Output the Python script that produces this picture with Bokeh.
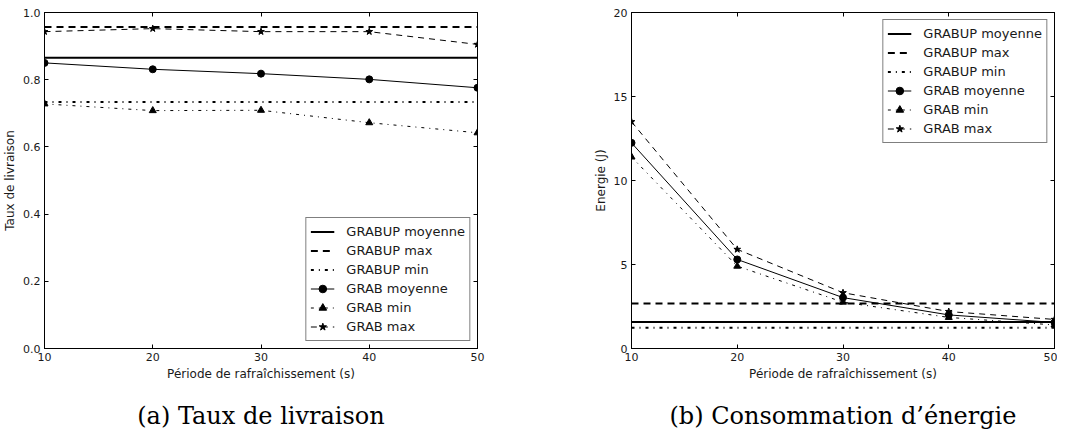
from bokeh.plotting import figure
from bokeh.models import Legend, LegendItem, LinearAxis, Title, FixedTicker, Range1d
from bokeh.layouts import row
from bokeh.embed import file_html
from bokeh.resources import INLINE

# ---------------- data ----------------
periods = [10, 20, 30, 40, 50]
x_ticks = [10, 20, 30, 40, 50]

# (a) Taux de livraison
grabup_moy_a = [0.865, 0.865, 0.865, 0.865, 0.865]
grabup_max_a = [0.957, 0.957, 0.957, 0.957, 0.957]
grabup_min_a = [0.734, 0.734, 0.734, 0.734, 0.734]
grab_moy_a = [0.850, 0.831, 0.818, 0.801, 0.776]
grab_min_a = [0.728, 0.708, 0.709, 0.672, 0.642]
grab_max_a = [0.943, 0.952, 0.943, 0.943, 0.905]
y_ticks_a = [0.0, 0.2, 0.4, 0.6, 0.8, 1.0]

# (b) Consommation d'énergie
grabup_moy_b = [1.57, 1.57, 1.57, 1.57, 1.57]
grabup_max_b = [2.68, 2.68, 2.68, 2.68, 2.68]
grabup_min_b = [1.23, 1.23, 1.23, 1.23, 1.23]
grab_moy_b = [12.24, 5.30, 3.03, 2.00, 1.55]
grab_min_b = [11.40, 4.90, 2.76, 1.85, 1.40]
grab_max_b = [13.50, 5.90, 3.32, 2.20, 1.73]
y_ticks_b = [0, 5, 10, 15, 20]

labels = ["GRABUP moyenne", "GRABUP max", "GRABUP min",
          "GRAB moyenne", "GRAB min", "GRAB max"]

FONT = "DejaVu Sans"
TXT = "#1a1a1a"


def style_axis(ax, show_labels=True):
    ax.major_tick_in = 4
    ax.major_tick_out = 0
    ax.minor_tick_line_color = None
    ax.axis_line_color = "black"
    ax.major_tick_line_color = "black"
    ax.major_label_text_font = FONT
    ax.axis_label_text_font = FONT
    ax.axis_label_text_font_style = "normal"
    ax.axis_label_text_font_size = "12px"
    ax.axis_label_text_color = TXT
    if show_labels:
        ax.major_label_text_color = TXT
        ax.major_label_text_font_size = "11px"
        ax.major_label_standoff = 4
        ax.axis_label_standoff = 3
    else:
        ax.major_label_text_color = None
        ax.major_label_text_font_size = "1px"
        ax.major_label_standoff = 0


def make_fig(yr, yticks, ylabel, series, caption, left_b, fw, right_b, legend_loc, yfmt):
    p = figure(output_backend="svg", toolbar_location=None,
               frame_width=fw, frame_height=336,
               min_border_left=left_b, min_border_right=right_b,
               min_border_top=12, min_border_bottom=0,
               x_range=Range1d(10, 50), y_range=Range1d(*yr))
    p.grid.visible = False
    p.outline_line_color = "black"
    p.outline_line_width = 1
    p.background_fill_color = "white"
    p.border_fill_color = "white"

    p.xaxis.ticker = FixedTicker(ticks=x_ticks)
    p.yaxis.ticker = FixedTicker(ticks=yticks)
    p.xaxis.axis_label = "Période de rafraîchissement (s)"
    p.yaxis.axis_label = ylabel
    if yfmt:
        p.yaxis.major_label_overrides = {t: f"{t:.1f}" for t in yticks}
    for ax in p.xaxis + p.yaxis:
        style_axis(ax)

    top = LinearAxis(ticker=FixedTicker(ticks=x_ticks))
    style_axis(top, show_labels=False)
    p.add_layout(top, "above")
    rgt = LinearAxis(ticker=FixedTicker(ticks=yticks))
    style_axis(rgt, show_labels=False)
    p.add_layout(rgt, "right")

    up_moy, up_max, up_min, g_moy, g_min, g_max = series
    items = []
    r = p.line(periods, up_moy, line_color="black", line_width=2)
    items.append(LegendItem(label=labels[0], renderers=[r]))
    r = p.line(periods, up_max, line_color="black", line_width=2, line_dash="7 5")
    items.append(LegendItem(label=labels[1], renderers=[r]))
    r = p.line(periods, up_min, line_color="black", line_width=2, line_dash="3 5 1 5")
    items.append(LegendItem(label=labels[2], renderers=[r]))

    r1 = p.line(periods, g_moy, line_color="black", line_width=1)
    r2 = p.scatter(periods, g_moy, marker="circle", size=7, color="black")
    items.append(LegendItem(label=labels[3], renderers=[r1, r2]))
    r1 = p.line(periods, g_min, line_color="black", line_width=1, line_dash="3 5 1 5")
    r2 = p.scatter(periods, g_min, marker="triangle", size=7, color="black")
    items.append(LegendItem(label=labels[4], renderers=[r1, r2]))
    r1 = p.line(periods, g_max, line_color="black", line_width=1, line_dash="6 5")
    r2 = p.scatter(periods, g_max, marker="star", size=7, color="black")
    items.append(LegendItem(label=labels[5], renderers=[r1, r2]))

    leg = Legend(items=items, location=legend_loc)
    leg.label_text_font = FONT
    leg.label_text_font_size = "13px"
    leg.label_text_color = TXT
    leg.label_height = 19
    leg.glyph_height = 19
    leg.glyph_width = 24
    leg.label_standoff = 12
    leg.spacing = 0
    leg.padding = 4
    leg.margin = 7
    leg.border_line_color = "black"
    leg.border_line_width = 1
    leg.background_fill_alpha = 1
    p.add_layout(leg)

    t = Title(text=caption, align="center", text_font="DejaVu Serif",
              text_font_size="24px", text_font_style="normal", text_color="black",
              standoff=32)
    p.add_layout(t, "below")
    return p


pa = make_fig((0, 1), y_ticks_a, "Taux de livraison",
              (grabup_moy_a, grabup_max_a, grabup_min_a, grab_moy_a, grab_min_a, grab_max_a),
              "(a) Taux de livraison", 38, 433, 113, "bottom_right", True)
pb = make_fig((0, 20), y_ticks_b, "Energie (J)",
              (grabup_moy_b, grabup_max_b, grabup_min_b, grab_moy_b, grab_min_b, grab_max_b),
              "(b) Consommation d\u2019énergie", 40, 423, 3, "top_right", False)

layout = row(pa, pb)
open("out.html", "w").write(file_html(layout, INLINE))
